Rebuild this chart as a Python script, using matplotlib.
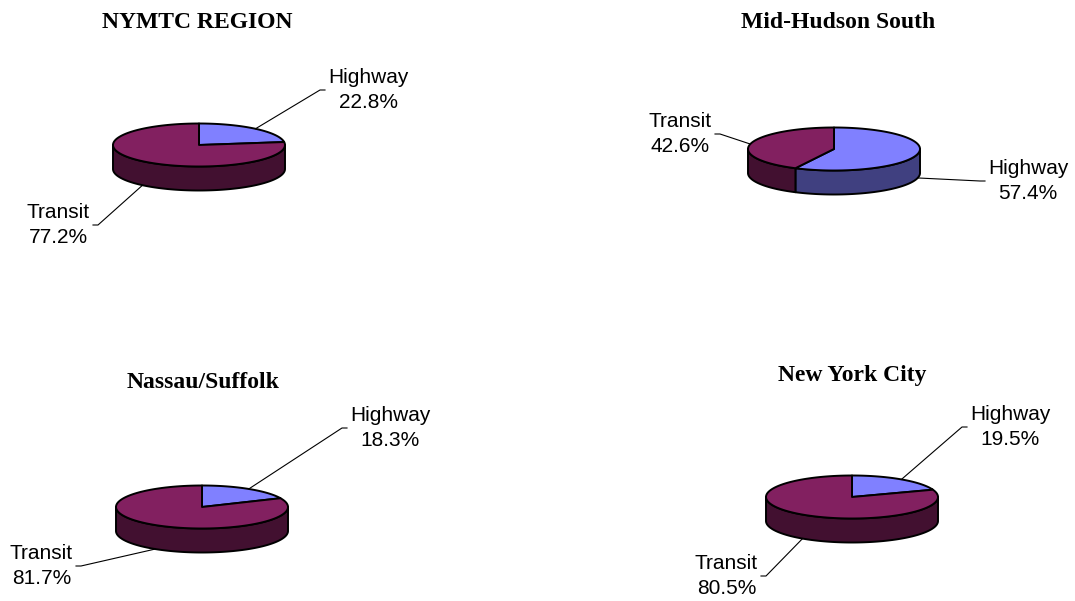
import numpy as np
import matplotlib.pyplot as plt
from matplotlib.patches import Polygon

# Data
regions = ["NYMTC REGION", "Mid-Hudson South", "Nassau/Suffolk", "New York City"]
modes = ["Highway", "Transit"]
highway = [22.8, 57.4, 18.3, 19.5]
transit = [77.2, 42.6, 81.7, 80.5]

top_colors = ["#8080FF", "#822060"]
side_colors = ["#404080", "#421030"]

# Layout (pixels, figure is 1075 x 601, y going down)
centers = [(199, 145), (834, 149), (202, 507), (852, 497)]
title_pos = [(197, 22), (838, 22), (203, 383), (852, 375)]
label_pos = [
    [(328, 90, "left"), (90, 225, "right")],
    [(988, 181, "left"), (712, 134, "right")],
    [(350, 428, "left"), (73, 566, "right")],
    [(970, 427, "left"), (758, 576, "right")],
]
RX, RY, DEPTH = 86, 21.5, 24


def arc(cx, cy, t0, t1, dy=0, n=120):
    t = np.radians(np.linspace(t0, t1, n))
    return np.column_stack([cx + RX * np.cos(t), cy - RY * np.sin(t) + dy])


def draw_pie(ax, cx, cy, values, labels, anchors):
    """ Excel-style 3D pie, slices clockwise from 12 o'clock """
    fracs = np.array(values) / sum(values)
    bounds = 90 - 360 * np.concatenate([[0], np.cumsum(fracs)])

    # outer rim (only the front half is visible)
    for i in range(len(fracs)):
        a0, a1 = bounds[i], bounds[i + 1]
        for k in range(-2, 2):
            lo = max(a1, -180 + 360 * k)
            hi = min(a0, 360 * k)
            if hi > lo:
                pts = np.vstack([arc(cx, cy, lo, hi), arc(cx, cy, hi, lo, DEPTH)])
                ax.add_patch(Polygon(pts, closed=True, fc=side_colors[i],
                                     ec="black", lw=1.4, joinstyle="round"))

    # top faces
    for i in range(len(fracs)):
        a0, a1 = bounds[i], bounds[i + 1]
        pts = np.vstack([[cx, cy], arc(cx, cy, a0, a1)])
        ax.add_patch(Polygon(pts, closed=True, fc=top_colors[i],
                             ec="black", lw=1.4, joinstyle="round"))

    # labels with leader lines
    for i in range(len(fracs)):
        mid = np.radians((bounds[i] + bounds[i + 1]) / 2)
        sx = cx + RX * np.cos(mid)
        sy = cy - RY * np.sin(mid) + (DEPTH if np.sin(mid) < 0 else 0)
        lx, ly, side = anchors[i]
        if side == "left":
            ex, hx = lx - 3, lx - 8
        else:
            ex, hx = lx + 3, lx + 8
        ax.plot([sx, hx, ex], [sy, ly, ly], color="black", lw=0.8)
        ax.text(lx, ly, f"{labels[i]}\n{values[i]:.1f}%", ha=side, va="center",
                multialignment="center", fontsize=15,
                family="Liberation Sans", linespacing=1.42)


fig = plt.figure(figsize=(10.75, 6.01), dpi=100)
ax = fig.add_axes([0, 0, 1, 1])
ax.set_xlim(0, 1075)
ax.set_ylim(601, 0)
ax.axis("off")

for j, name in enumerate(regions):
    cx, cy = centers[j]
    draw_pie(ax, cx, cy, [highway[j], transit[j]], modes, label_pos[j])
    tx, ty = title_pos[j]
    ax.text(tx, ty, name, ha="center", va="center", fontsize=17,
            fontweight="bold", family="Liberation Serif")

fig.savefig("out.png", dpi=100)
